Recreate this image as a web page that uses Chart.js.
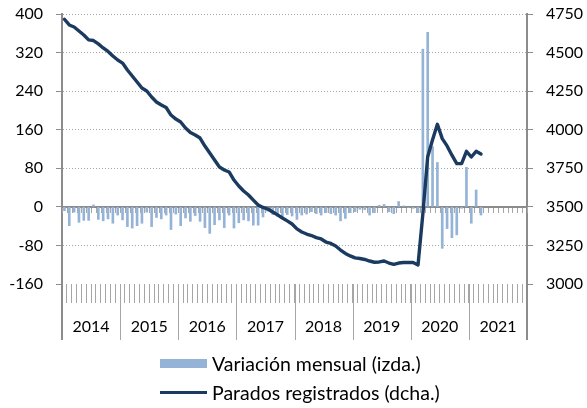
<!DOCTYPE html>
<html>
<head>
<meta charset="utf-8">
<script src="https://cdn.jsdelivr.net/npm/chart.js@4.4.1/dist/chart.umd.min.js"></script>
<style>
  body { margin: 0; background: #fff; }
  #wrap { position: relative; width: 587px; height: 408px; }
  #legend { position: absolute; left: 160px; top: 349px; font-family: Lato, sans-serif; font-size: 19.5px; color: #000; }
  .item { display: flex; align-items: center; height: 29px; white-space: nowrap; }
  .swatch { display: inline-block; width: 47px; margin-right: 5px; }
</style>
</head>
<body>
<div id="wrap">
  <canvas id="chart" width="587" height="408"></canvas>
  <div id="legend">
    <div class="item"><span class="swatch" style="height:9px;background:#95b3d7"></span>Variación mensual (izda.)</div>
    <div class="item"><span class="swatch" style="height:3px;background:#1b3a5f"></span>Parados registrados (dcha.)</div>
  </div>
</div>
<script>
// Years on the axis, one category per month
const years = ['2014', '2015', '2016', '2017', '2018', '2019', '2020', '2021'];
const months = ['ene', 'feb', 'mar', 'abr', 'may', 'jun', 'jul', 'ago', 'sep', 'oct', 'nov', 'dic'];

// Monthly change, thousands (left axis), Jan 2014 - Mar 2021
const variacion = [
  -8, -39, -11, -32, -28, -28, 4, -26, -29, -25, -34, -17,
  -27, -41, -44, -39, -34, -11, -41, -22, -25, -17, -47, -15,
  -39, -23, -30, -18, -30, -43, -55, -37, -27, -43, -17, -44,
  -33, -27, -29, -38, -38, -21, -9, -16, -20, -20, -16, -19,
  -26, -17, -15, -10, -14, -17, -12, -14, -17, -29, -24, -12,
  -10, -5, -6, -17, -12, 3, 5, -10, -14, 11, 2, -1,
  -3, -12, 327, 362, 125, 92, -86, -45, -64, -58, -3, 82,
  -34, 35, -17
];

// Registered unemployed, thousands (right axis)
const parados = [
  4716, 4679, 4666, 4640, 4614, 4582, 4578, 4556, 4530, 4507, 4478, 4452,
  4432, 4387, 4348, 4309, 4270, 4251, 4212, 4180, 4160, 4144, 4095, 4069,
  4050, 4011, 3982, 3966, 3946, 3894, 3849, 3804, 3758, 3739, 3726, 3674,
  3635, 3603, 3577, 3544, 3512, 3496, 3486, 3467, 3448, 3428, 3409, 3389,
  3357, 3337, 3324, 3314, 3301, 3292, 3272, 3263, 3246, 3220, 3198, 3182,
  3169, 3165, 3159, 3149, 3141, 3143, 3149, 3136, 3127, 3136, 3139, 3139,
  3139, 3123, 3455, 3825, 3935, 4035, 3942, 3895, 3835, 3780, 3780, 3860,
  3823, 3860, 3842
];

const labels = years.flatMap(y => months.map(m => m + ' ' + y));

Chart.defaults.font.family = 'Lato, sans-serif';
Chart.defaults.font.size = 16;
Chart.defaults.color = '#000';

const GRID = '#a6a6a6';
const AXIS = '#8c8c8c';

// fixed axis box sizes; drop the label padding Chart.js adds above/below the value axes
function fixWidth(w) {
  return s => { s.width = w; s.paddingTop = 0; s.paddingBottom = 0; };
}

// zero line with its small month ticks, year separators, axis lines running down to the labels
const axisExtras = {
  id: 'axisExtras',
  beforeDatasetsDraw(chart) {
    const { ctx, chartArea, scales: { x, y } } = chart;
    const y0 = Math.round(y.getPixelForValue(0));
    ctx.save();
    ctx.strokeStyle = GRID;
    ctx.lineWidth = 1;
    for (let i = 0; i <= labels.length; i++) {
      const px = Math.round(x.getPixelForValue(i - 0.5)) + 0.5;
      ctx.beginPath();
      ctx.moveTo(px, y0);
      ctx.lineTo(px, y0 + 6);
      ctx.stroke();
    }
    ctx.strokeStyle = AXIS;
    ctx.lineWidth = 2;
    ctx.beginPath();
    ctx.moveTo(chartArea.left, y0);
    ctx.lineTo(chartArea.right, y0);
    ctx.stroke();
    ctx.restore();
  },
  afterDraw(chart) {
    const { ctx, chartArea, scales: { x } } = chart;
    const b = chartArea.bottom;
    ctx.save();
    ctx.strokeStyle = GRID;
    ctx.lineWidth = 1;
    for (let k = 1; k < years.length; k++) {
      const px = Math.round(x.getPixelForValue(k * 12 - 0.5)) + 0.5;
      ctx.beginPath();
      ctx.moveTo(px, b);
      ctx.lineTo(px, b + 56);
      ctx.stroke();
    }
    ctx.strokeStyle = AXIS;
    ctx.lineWidth = 2;
    [chartArea.left, chartArea.right].forEach(px => {
      ctx.beginPath();
      ctx.moveTo(px, b);
      ctx.lineTo(px, b + 56);
      ctx.stroke();
    });
    ctx.restore();
  }
};

new Chart(document.getElementById('chart'), {
  data: {
    labels: labels,
    datasets: [
      {
        type: 'line',
        label: 'Parados registrados (dcha.)',
        data: parados,
        yAxisID: 'y1',
        borderColor: '#1b3a5f',
        borderWidth: 3.4,
        borderJoinStyle: 'round',
        borderCapStyle: 'round',
        pointRadius: 0,
        tension: 0,
        order: 0
      },
      {
        type: 'bar',
        label: 'Variación mensual (izda.)',
        data: variacion,
        yAxisID: 'y',
        backgroundColor: '#95b3d7',
        barThickness: 2,
        order: 1
      }
    ]
  },
  options: {
    responsive: false,
    animation: false,
    layout: { padding: { top: 14, left: 0, right: 0, bottom: 0 } },
    plugins: {
      legend: { display: false },
      tooltip: { enabled: false }
    },
    scales: {
      x: {
        offset: true,
        afterFit: s => { s.height = 124; },
        border: { display: false },
        grid: { offset: true, drawOnChartArea: false, tickLength: 19, color: GRID },
        ticks: {
          autoSkip: false,
          maxRotation: 0,
          padding: 14,
          labelOffset: -2.4,
          callback: (v, i) => (i % 12 === 6 ? years[Math.floor(i / 12)] : '')
        }
      },
      y: {
        position: 'left',
        min: -160,
        max: 400,
        afterFit: fixWidth(62),
        border: { display: true, color: AXIS, width: 2, dash: [1, 2] },
        grid: {
          color: c => (c.tick && (c.tick.value === 0 || c.tick.value === -160) ? 'rgba(0,0,0,0)' : GRID),
          tickColor: AXIS,
          tickLength: 6
        },
        ticks: { stepSize: 80, padding: 13 }
      },
      y1: {
        position: 'right',
        min: 3000,
        max: 4750,
        afterFit: fixWidth(60),
        border: { display: true, color: AXIS, width: 2 },
        grid: { drawOnChartArea: false, tickColor: AXIS, tickLength: 6 },
        ticks: { stepSize: 250, padding: 13, callback: v => String(v) }
      }
    }
  },
  plugins: [axisExtras]
});
</script>
</body>
</html>
